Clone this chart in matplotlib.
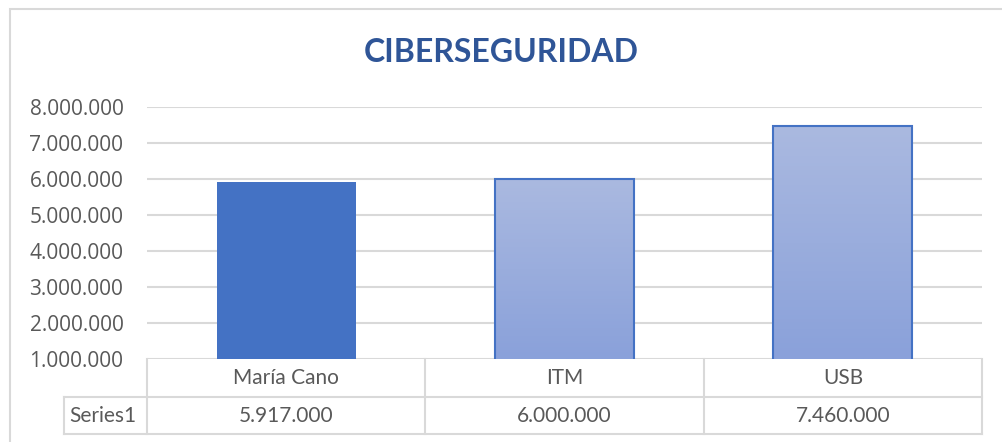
import matplotlib
matplotlib.use("agg")
import matplotlib.pyplot as plt
from matplotlib.patches import Rectangle
from matplotlib.colors import LinearSegmentedColormap
from matplotlib.transforms import blended_transform_factory
import numpy as np

categories = ["María Cano", "ITM", "USB"]
values = [5917000, 6000000, 7460000]
series_name = "Series1"
yticks = [1000000, 2000000, 3000000, 4000000, 5000000, 6000000, 7000000, 8000000]
title = "CIBERSEGURIDAD"


def fmt(v):
    # Spanish thousands separator
    return f"{v:,.0f}".replace(",", ".")


W, H = 1002, 442
fig = plt.figure(figsize=(W / 100, H / 100), dpi=100)

# outer chart frame
fig.patches.append(Rectangle((9.5 / W, -0.1), 1.1, (H - 8.5) / H + 0.1,
                             transform=fig.transFigure, fill=False,
                             edgecolor="#D9D9D9", lw=1.5))

x0, x1, ytop, ybot = 147, 982, 107, 359
ax = fig.add_axes([x0 / W, (H - ybot) / H, (x1 - x0) / W, (ybot - ytop) / H])

x = np.arange(len(categories))
bars = ax.bar(x, values, width=0.5, color="#4472C4", zorder=3)

ax.set_xlim(-0.5, len(categories) - 0.5)
ax.set_ylim(yticks[0], yticks[-1])

grad = LinearSegmentedColormap.from_list("g", ["#8AA1DA", "#AAB9E0"])
for b in list(bars)[1:]:
    b.set_facecolor("none")
    b.set_edgecolor("#4472C4")
    b.set_linewidth(1.5)
    im = ax.imshow(np.linspace(0, 1, 100).reshape(-1, 1), cmap=grad, aspect="auto",
                   origin="lower", zorder=2,
                   extent=[b.get_x(), b.get_x() + b.get_width(), yticks[0], b.get_height()])
    im.set_clip_path(b)
ax.set_xlim(-0.5, len(categories) - 0.5)
ax.set_ylim(yticks[0], yticks[-1])

ax.set_yticks(yticks)
ax.set_yticklabels([fmt(v) for v in yticks], fontfamily="Open Sans",
                   fontsize=15, color="#595959")
ax.set_xticks([])
ax.yaxis.set_tick_params(length=0, pad=17)
ax.grid(axis="y", color="#D9D9D9", lw=1.5, zorder=0)
for s in ax.spines.values():
    s.set_visible(False)

fig.text(0.5, (H - 52) / H, title, ha="center", va="center",
         fontfamily="Lato", fontweight="bold", fontsize=23, color="#2F5597")

# data table drawn by hand: x in category units, y in axes fraction
tr = blended_transform_factory(ax.transData, ax.transAxes)
axh = ybot - ytop
r1, r2 = -38 / axh, -75 / axh
n = len(categories)
xl = -0.5 - (x0 - 64) / (x1 - x0) * n
line = dict(color="#D9D9D9", lw=1.5, transform=tr, clip_on=False, zorder=1)
for xe in np.arange(n + 1) - 0.5:
    ax.plot([xe, xe], [0, r2], **line)
ax.plot([xl, xl], [r1, r2], **line)
ax.plot([xl, n - 0.5], [r1, r1], **line)
ax.plot([xl, n - 0.5], [r2, r2], **line)

txt = dict(transform=tr, fontfamily="Lato", fontsize=15, color="#595959",
           va="center", clip_on=False)
for i, (c, v) in enumerate(zip(categories, values)):
    ax.text(i, r1 / 2, c, ha="center", **txt)
    ax.text(i, (r1 + r2) / 2, fmt(v), ha="center", **txt)
ax.text(xl + 0.02, (r1 + r2) / 2, series_name, ha="left", **txt)

fig.savefig("out.png", dpi=100)
